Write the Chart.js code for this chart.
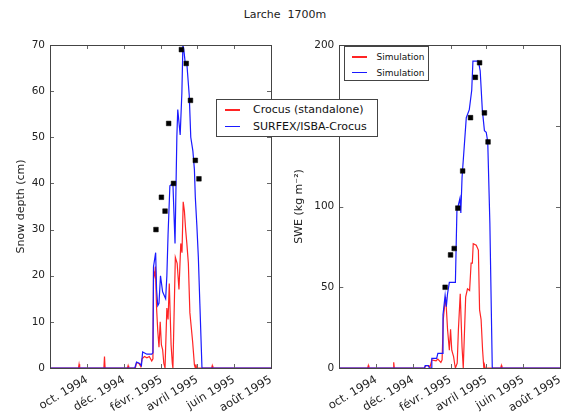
<!DOCTYPE html>
<html>
<head>
<meta charset="utf-8">
<script src="https://cdn.jsdelivr.net/npm/chart.js@4.4.1/dist/chart.umd.min.js"></script>
<style>
  html, body { margin: 0; padding: 0; background: #fff; }
  body { width: 562px; height: 414px; position: relative; overflow: hidden; font-family: "DejaVu Sans", sans-serif; }
  #title { position: absolute; left: 4px; width: 562px; top: 8px; text-align: center; font-size: 11px; color: #222; white-space: pre; }
  canvas { position: absolute; top: 0; }
  #depth-chart { left: 0; }
  #swe-chart { left: 280px; }
  .legend { position: absolute; background: #fff; border: 1px solid #444; color: #111; z-index: 2; box-sizing: border-box; }
  .legend .row { display: flex; align-items: center; white-space: nowrap; }
  .legend .swatch { display: inline-block; height: 1.5px; }
  #depth-legend { left: 216px; top: 99px; width: 162px; height: 38px; padding-top: 1.5px; font-size: 11px; }
  #depth-legend .row { height: 16.5px; }
  #depth-legend .swatch { width: 15px; margin-left: 8px; margin-right: 13px; }
  #swe-legend { left: 344px; top: 46px; width: 85px; height: 35px; padding-top: 2.5px; font-size: 9px; }
  #swe-legend .row { height: 15.4px; }
  #swe-legend .swatch { width: 15px; margin-left: 6.5px; margin-right: 10px; }
</style>
</head>
<body>
<div id="title">Larche  1700m</div>
<canvas id="depth-chart" width="300" height="414"></canvas>
<canvas id="swe-chart" width="300" height="414"></canvas>
<div class="legend" id="depth-legend"></div>
<div class="legend" id="swe-legend"></div>

<script>
// --- Data (x = days since 1 Aug 1994) ---

const tickDays = [61, 122, 184, 243, 304, 365];
const tickLabels = ['oct. 1994', 'déc. 1994', 'févr. 1995', 'avril 1995', 'juin 1995', 'août 1995'];

// observations (black squares)
const obsDays = [175, 184, 190, 196, 204, 217, 225, 232, 240, 246];
const obsDepth = [30, 37, 34, 53, 40, 69, 66, 58, 45, 41];
const obsSwe = [50, 70, 74, 99, 122, 155, 180, 189, 158, 140];

// snow depth (cm)
const depthCrocus = [[0, 0], [47, 0], [48, 0.8], [49, 0], [89, 0], [90, 2.5], [91, 0], [128, 0], [129, 0.5], [130, 0],
  [141, 0], [143, 1.2], [147, 1], [150, 0.3], [152, 2], [156, 2.5], [160, 2.2], [164, 2.5], [168, 1.5], [170, 2],
  [171, 21], [173, 20], [174, 22], [176, 13], [178, 8], [180, 4.5], [182, 10], [184, 5], [186, 4], [188, 1], [190, 0],
  [193, 13], [195, 10.5], [197, 18.3], [200, 5], [202, 1], [203, 0], [207, 24], [210, 22.7], [213, 17], [216, 27],
  [218, 25], [220, 36], [222, 34], [224, 30], [226, 27], [228.5, 22.7], [231, 12], [235.5, 5.8], [238.5, 0.7], [240, 0],
  [241, 0.8], [242, 0], [267, 0], [268, 0.5], [269, 0], [365, 0]];
const depthSurfex = [[0, 0], [140, 0], [143, 1.3], [148, 1], [151, 0.5], [153, 3.5], [160, 3], [168, 3], [170, 3.3],
  [171, 22], [174.5, 25], [176, 17], [178, 13.5], [180, 14], [182.5, 20], [186, 16.5], [191, 15], [193, 20], [195, 29],
  [198, 39.5], [203, 40], [206.5, 27], [209.5, 50], [211, 56], [215, 50.5], [217.8, 59.6], [219.5, 70], [221, 69],
  [223, 66.5], [226, 66], [230, 59], [232.5, 50], [236, 47], [238.5, 43], [240, 37], [242.5, 31], [245, 24],
  [247.5, 14], [251, 0], [365, 0]];

// SWE (kg m-2)
const sweCrocus = [[0, 0], [47, 0], [48, 1.5], [49, 0], [89, 0], [90, 3.5], [91, 0], [141, 0], [143, 1.5], [148, 1.5],
  [150, 0.5], [153, 5], [160, 4.5], [163, 5.5], [168, 3.5], [170, 5], [172, 30], [174, 38], [176, 44], [179, 24],
  [182, 11], [184, 24], [186, 11], [189, 7], [191, 2], [192, 0], [195, 3], [197, 24], [200, 46], [203, 13], [205, 0],
  [206, 0], [209, 44], [212, 49], [215.5, 48], [218, 65], [220, 65], [221.5, 77], [226.5, 76], [230, 73], [232, 36],
  [234.5, 30], [237, 11], [239, 0], [240, 2], [241, 0], [267, 0], [268, 1.5], [269, 0], [365, 0]];
const sweSurfex = [[0, 0], [141, 0], [142, 1.5], [147, 1.5], [149, 0], [152, 0], [153, 6], [161, 6], [163, 9], [170, 9],
  [171.5, 33], [173, 38], [175, 45], [177, 38], [179, 46], [182, 53], [192, 53], [194.5, 97], [199.5, 105], [201, 96],
  [203, 118], [210, 155], [215, 160], [219, 172], [221, 190], [230, 190], [233, 184], [236.5, 160], [240, 147],
  [243, 146], [245.5, 140], [249, 90], [253, 0], [365, 0]];

const RED = '#ff2424';
const BLUE = '#1a1aff';
const FONT = '"DejaVu Sans", sans-serif';

// --- Helpers ---

const toPts = (pairs) => pairs.map(([x, y]) => ({ x, y }));

// matplotlib-like box with inward ticks on all four sides
const framePlugin = {
  id: 'frame',
  afterDatasetsDraw(chart) {
    const { ctx, chartArea: a, scales } = chart;
    ctx.save();
    ctx.strokeStyle = '#666';
    ctx.lineWidth = 1;
    ctx.beginPath();
    scales.x.ticks.forEach(t => {
      const px = Math.round(scales.x.getPixelForValue(t.value)) + 0.5;
      ctx.moveTo(px, a.bottom); ctx.lineTo(px, a.bottom - 4);
      ctx.moveTo(px, a.top); ctx.lineTo(px, a.top + 4);
    });
    scales.y.ticks.forEach(t => {
      const py = Math.round(scales.y.getPixelForValue(t.value)) + 0.5;
      ctx.moveTo(a.left, py); ctx.lineTo(a.left + 4, py);
      ctx.moveTo(a.right, py); ctx.lineTo(a.right - 4, py);
    });
    ctx.stroke();
    ctx.strokeStyle = '#444';
    ctx.strokeRect(Math.round(a.left) + 0.5, Math.round(a.top) + 0.5,
      Math.round(a.right - a.left), Math.round(a.bottom - a.top));
    ctx.restore();
  }
};

function makePanel(canvasId, cfg) {
  return new Chart(document.getElementById(canvasId), {
    type: 'line',
    data: {
      datasets: [{
        data: obsDays.map((d, i) => ({ x: d, y: cfg.obs[i] })),
        showLine: false,
        pointStyle: 'rect',
        pointRadius: 3.3,
        pointBackgroundColor: '#000',
        pointBorderColor: '#000',
        pointBorderWidth: 0.5
      }, {
        data: toPts(cfg.surfex),
        borderColor: BLUE,
        borderWidth: 1.2,
        pointRadius: 0,
        tension: 0
      }, {
        data: toPts(cfg.crocus),
        borderColor: RED,
        borderWidth: 1.2,
        pointRadius: 0,
        tension: 0
      }]
    },
    options: {
      responsive: false,
      animation: false,
      events: [],
      layout: { padding: cfg.padding },
      plugins: { legend: { display: false }, tooltip: { enabled: false } },
      scales: {
        x: {
          type: 'linear',
          min: 0,
          max: 365,
          grid: { display: false, drawTicks: false },
          border: { display: false },
          afterBuildTicks: (s) => { s.ticks = tickDays.map(v => ({ value: v })); },
          afterFit: (s) => { s.height = 46; },
          ticks: {
            autoSkip: false,
            minRotation: 31,
            maxRotation: 31,
            padding: 5,
            color: '#222',
            font: { family: FONT, size: 11.5 },
            callback: (v) => tickLabels[tickDays.indexOf(v)]
          }
        },
        y: {
          min: 0,
          max: cfg.max,
          grid: { display: false, drawTicks: false },
          border: { display: false },
          afterFit: (s) => { s.width = cfg.yWidth; },
          ticks: { stepSize: cfg.step, padding: 5, color: '#222', font: { family: FONT, size: 10.5 } },
          title: {
            display: true,
            text: cfg.label,
            color: '#222',
            padding: { top: 5, bottom: 0 },
            font: { family: FONT, size: 11 }
          }
        }
      }
    },
    plugins: [framePlugin]
  });
}

makePanel('depth-chart', {
  obs: obsDepth, surfex: depthSurfex, crocus: depthCrocus,
  max: 70, step: 10, label: 'Snow depth (cm)',
  yWidth: 40, padding: { left: 10, top: 45, right: 29, bottom: 0 }
});

makePanel('swe-chart', {
  obs: obsSwe, surfex: sweSurfex, crocus: sweCrocus,
  max: 200, step: 50, label: 'SWE (kg m\u207B\u00B2)',
  yWidth: 51.3, padding: { left: 8, top: 45, right: 20, bottom: 0 }
});

// --- Legends ---

function fillLegend(id, labels) {
  const box = document.getElementById(id);
  [RED, BLUE].forEach((color, i) => {
    const row = document.createElement('div');
    row.className = 'row';
    const sw = document.createElement('span');
    sw.className = 'swatch';
    sw.style.background = color;
    row.appendChild(sw);
    row.appendChild(document.createTextNode(labels[i]));
    box.appendChild(row);
  });
}

fillLegend('depth-legend', ['Crocus (standalone)', 'SURFEX/ISBA-Crocus']);
fillLegend('swe-legend', ['Simulation', 'Simulation']);
</script>
</body>
</html>
